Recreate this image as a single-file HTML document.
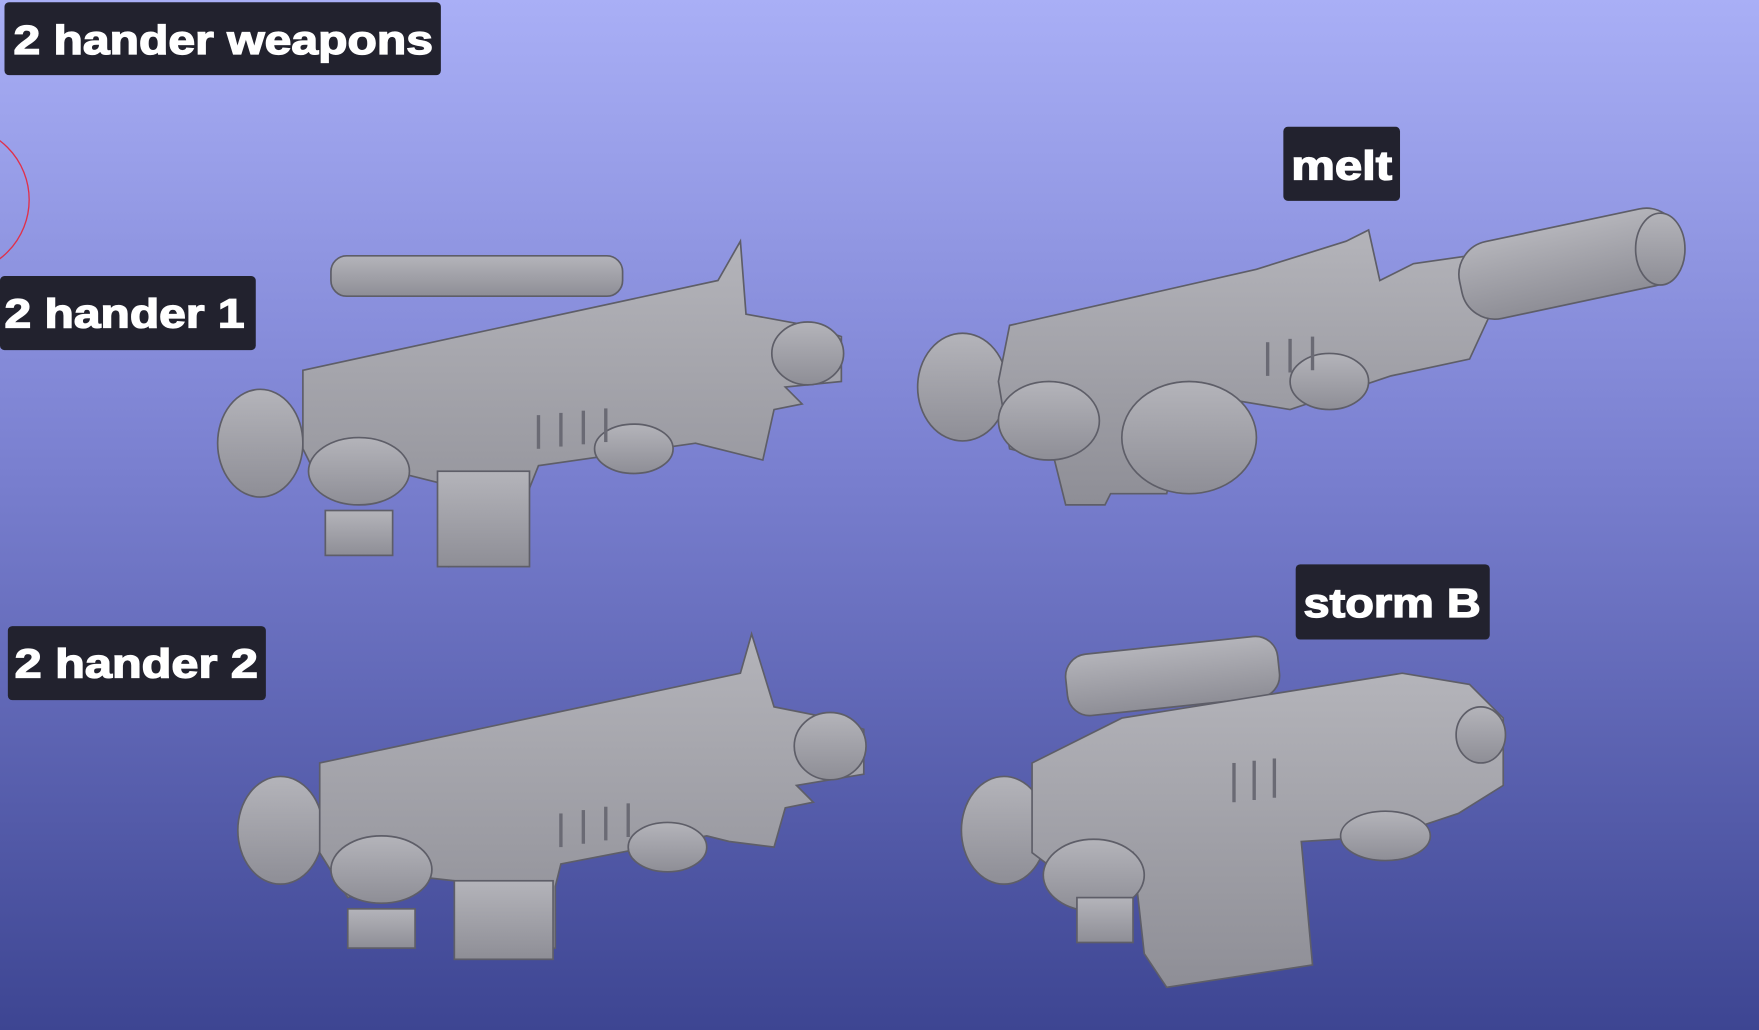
<!DOCTYPE html>
<html><head><meta charset="utf-8"><style>
html,body{margin:0;padding:0;overflow:hidden;background:#6a70c8}
svg{display:block}
text{font-family:"Liberation Sans","DejaVu Sans",sans-serif;font-weight:bold;fill:#fff;stroke:#fff;stroke-width:1.2}
</style></head><body>
<svg width="1759" height="1030" viewBox="0 0 1568 918" preserveAspectRatio="none" xmlns="http://www.w3.org/2000/svg">
<defs>
<linearGradient id="bg" x1="0" y1="0" x2="0" y2="1">
<stop offset="0" stop-color="#a9aff6"/><stop offset="0.45" stop-color="#7a80d0"/><stop offset="1" stop-color="#3d4592"/>
</linearGradient>
<linearGradient id="g" x1="0" y1="0" x2="0" y2="1">
<stop offset="0" stop-color="#b4b4ba"/><stop offset="1" stop-color="#8e8e96"/>
</linearGradient>
</defs>
<rect width="1568" height="918" fill="url(#bg)"/>
<circle cx="-40" cy="178" r="66" fill="none" stroke="#e0304a" stroke-width="1.2"/>

<g fill="url(#g)" stroke="#5e5e68" stroke-width="1.5">
<ellipse cx="232" cy="395" rx="38" ry="48"/>
<rect x="295" y="228" width="260" height="36" rx="14"/>
<polygon points="270,330 640,250 660,215 665,280 720,290 750,300 750,340 700,345 715,360 690,365 680,410 640,400 620,395 480,415 470,440 470,495 400,505 390,430 350,420 290,440 270,400"/>
<rect x="390" y="420" width="82" height="85"/>
<ellipse cx="720" cy="315" rx="32" ry="28"/>
<ellipse cx="320" cy="420" rx="45" ry="30"/>
<ellipse cx="565" cy="400" rx="35" ry="22"/>
<rect x="290" y="455" width="60" height="40"/>
<ellipse cx="858" cy="345" rx="40" ry="48"/>
<polygon points="900,290 1120,240 1200,215 1220,205 1230,250 1260,235 1330,225 1340,255 1310,320 1240,335 1150,365 1060,350 1040,440 990,440 985,450 950,450 940,410 900,400 890,340"/>
<rect x="1300" y="200" width="200" height="70" rx="30" transform="rotate(-12 1400 235)"/>
<ellipse cx="1480" cy="222" rx="22" ry="32"/>
<ellipse cx="1060" cy="390" rx="60" ry="50"/>
<ellipse cx="935" cy="375" rx="45" ry="35"/>
<ellipse cx="1185" cy="340" rx="35" ry="25"/>
<ellipse cx="250" cy="740" rx="38" ry="48"/>
<polygon points="285,680 660,600 670,565 690,630 740,640 770,650 770,690 710,700 725,715 700,720 690,755 650,750 630,745 500,770 495,790 495,845 415,855 405,785 360,780 310,800 285,760"/>
<rect x="405" y="785" width="88" height="70"/>
<ellipse cx="740" cy="665" rx="32" ry="30"/>
<ellipse cx="340" cy="775" rx="45" ry="30"/>
<ellipse cx="595" cy="755" rx="35" ry="22"/>
<rect x="310" y="810" width="60" height="35"/>
<ellipse cx="895" cy="740" rx="38" ry="48"/>
<rect x="950" y="575" width="190" height="55" rx="20" transform="rotate(-6 1045 600)"/>
<polygon points="920,680 1000,640 1250,600 1310,610 1340,640 1340,700 1300,725 1240,745 1160,750 1170,860 1040,880 1020,850 1010,760 960,790 920,760"/>
<ellipse cx="1320" cy="655" rx="22" ry="25"/>
<ellipse cx="1235" cy="745" rx="40" ry="22"/>
<ellipse cx="975" cy="780" rx="45" ry="32"/>
<rect x="960" y="800" width="50" height="40"/>
</g>
<g fill="none" stroke="#6a6a74" stroke-width="3">
<line x1="480" y1="370" x2="480" y2="400"/><line x1="500" y1="368" x2="500" y2="398"/><line x1="520" y1="366" x2="520" y2="396"/><line x1="540" y1="364" x2="540" y2="394"/>
<line x1="500" y1="725" x2="500" y2="755"/><line x1="520" y1="722" x2="520" y2="752"/><line x1="540" y1="719" x2="540" y2="749"/><line x1="560" y1="716" x2="560" y2="746"/>
<line x1="1100" y1="680" x2="1100" y2="715"/><line x1="1118" y1="678" x2="1118" y2="713"/><line x1="1136" y1="676" x2="1136" y2="711"/>
<line x1="1130" y1="305" x2="1130" y2="335"/><line x1="1150" y1="302" x2="1150" y2="332"/><line x1="1170" y1="300" x2="1170" y2="330"/>
</g>

<rect x="4" y="2" width="389" height="65" rx="4" fill="#22222e"/>
<text x="12" y="48" font-size="36" textLength="374" lengthAdjust="spacingAndGlyphs">2 hander weapons</text>
<rect x="0" y="246" width="228" height="66" rx="4" fill="#22222e"/>
<text x="4" y="292" font-size="36" textLength="214" lengthAdjust="spacingAndGlyphs">2 hander 1</text>
<rect x="1144" y="113" width="104" height="66" rx="4" fill="#22222e"/>
<text x="1151" y="160" font-size="36" textLength="90" lengthAdjust="spacingAndGlyphs">melt</text>
<rect x="7" y="558" width="230" height="66" rx="4" fill="#22222e"/>
<text x="13" y="604" font-size="36" textLength="217" lengthAdjust="spacingAndGlyphs">2 hander 2</text>
<rect x="1155" y="503" width="173" height="67" rx="4" fill="#22222e"/>
<text x="1162" y="550" font-size="36" textLength="158" lengthAdjust="spacingAndGlyphs">storm B</text>
</svg>
</body></html>
